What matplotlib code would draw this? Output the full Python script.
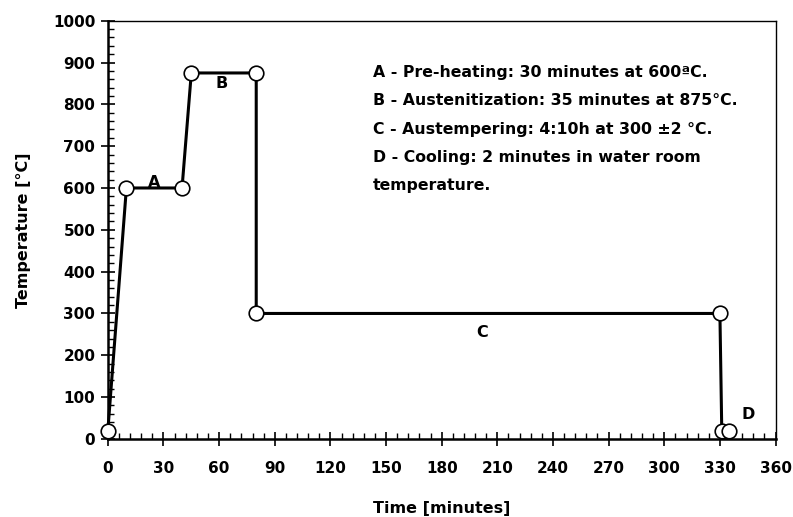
import matplotlib.pyplot as plt
from matplotlib.ticker import MultipleLocator

# heat-treatment schedule (time in minutes, temperature in degC)
time_min = [0, 10, 40, 45, 80, 80, 330, 331, 335]
temp_c = [20, 600, 600, 875, 875, 300, 300, 20, 20]

stage_labels = ["A", "B", "C", "D"]
stage_x = [25, 61.5, 202, 345]
stage_y = [612, 850, 254, 58]

notes = [
    "A - Pre-heating: 30 minutes at 600ªC.",
    "B - Austenitization: 35 minutes at 875°C.",
    "C - Austempering: 4:10h at 300 ±2 °C.",
    "D - Cooling: 2 minutes in water room",
    "temperature.",
]

plt.rcParams["font.family"] = "DejaVu Sans"
plt.rcParams["font.weight"] = "bold"

fig, ax = plt.subplots(figsize=(7.93, 5.17), dpi=100)
fig.subplots_adjust(left=0.136, right=0.978, top=0.96, bottom=0.151)

ax.plot(time_min, temp_c, color="black", linewidth=2.2, marker="o",
        markersize=10.5, markerfacecolor="white", markeredgecolor="black",
        markeredgewidth=1.2, zorder=3, clip_on=False)

for lab, x, y in zip(stage_labels, stage_x, stage_y):
    ax.text(x, y, lab, fontsize=11.5, fontweight="bold", ha="center", va="center")

for i, line in enumerate(notes):
    ax.text(0.397, 0.875 - i * 0.067, line, transform=ax.transAxes,
            fontsize=11.3, fontweight="bold", ha="left", va="center")

ax.set_xlim(0, 360)
ax.set_ylim(0, 1000)
ax.xaxis.set_major_locator(MultipleLocator(30))
ax.xaxis.set_minor_locator(MultipleLocator(6))
ax.yaxis.set_major_locator(MultipleLocator(100))
ax.yaxis.set_minor_locator(MultipleLocator(20))
ax.tick_params(which="major", direction="inout", length=10, width=1.2,
               labelsize=11)
ax.tick_params(axis="x", which="major", pad=11)
ax.tick_params(axis="y", which="major", pad=4)
ax.tick_params(which="minor", direction="in", length=4, width=1)
for lbl in ax.get_xticklabels() + ax.get_yticklabels():
    lbl.set_fontweight("bold")

for side in ["left", "bottom"]:
    ax.spines[side].set_linewidth(1.8)
for side in ["top", "right"]:
    ax.spines[side].set_linewidth(1.0)

ax.set_xlabel("Time [minutes]", fontsize=11.5, fontweight="bold", labelpad=18)
ax.set_ylabel("Temperature [°C]", fontsize=11.5, fontweight="bold", labelpad=16)

fig.savefig("out.png", dpi=100)
